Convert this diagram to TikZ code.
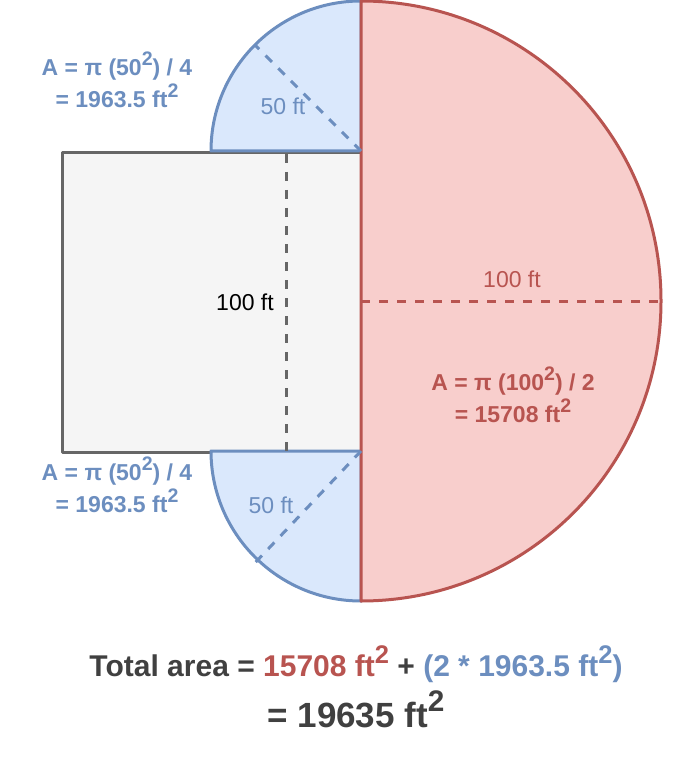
\documentclass[tikz,border=0pt]{standalone}
\usepackage{fontspec}
\setmainfont{Liberation Sans}
\definecolor{redS}{HTML}{B85450}
\definecolor{redF}{HTML}{F8CECC}
\definecolor{bluS}{HTML}{6C8EBF}
\definecolor{bluF}{HTML}{DAE8FC}
\definecolor{grS}{HTML}{666666}
\definecolor{grF}{HTML}{F5F5F5}
\definecolor{txt}{HTML}{404040}
\newcommand\sqr{\raisebox{0.45em}{\scalebox{0.85}{2}}}
\begin{document}
\begin{tikzpicture}[x=1pt,y=-1pt,
  lbl/.style={font=\fontsize{23}{27}\selectfont, inner sep=0pt},
  area/.style={font=\fontsize{23}{32}\selectfont\bfseries, align=center, inner sep=0pt},
  shp/.style={line width=3pt, line join=round},
  dim/.style={line width=3pt, dash pattern=on 9pt off 9pt}]
\useasboundingbox (0,0) rectangle (678,759);
% rectangle
\node[shp, draw=grS, fill=grF, minimum width=300pt, minimum height=300pt, inner sep=0pt, anchor=north west] (rect) at (61,151) {};
% quarter circles
\draw[shp, draw=bluS, fill=bluF] (361,151) -- (211,151) arc (180:270:150) -- cycle;
\draw[shp, draw=bluS, fill=bluF] (361,451) -- (211,451) arc (180:90:150) -- cycle;
% semicircle
\draw[shp, draw=redS, fill=redF] (361,1) arc (-90:90:300) -- cycle;
% dimension coordinates
\coordinate (gT) at (286,154);
\coordinate (gB) at (286,451);
\coordinate (rC) at (361,301);
\coordinate (rE) at (661,301);
\coordinate (bTc) at (361,151);
\coordinate (bTe) at (255,45);
\coordinate (bBc) at (361,451);
\coordinate (bBe) at (253,565);
\draw[dim, grS] (gT) -- (gB);
\draw[dim, redS] (rC) -- (rE);
\draw[dim, bluS] (bTc) -- (bTe);
\draw[dim, bluS] (bBc) -- (bBe);
% labels
\node[lbl, text=bluS] (l50t) at (283,106) {50 ft};
\node[lbl, text=bluS] (l50b) at (271,505) {50 ft};
\node[lbl, text=black] (l100g) at (245,302) {100 ft};
\node[lbl, text=redS] (l100r) at (512,279) {100 ft};
\node[area, text=redS] (ared) at (513,395) {A = π (100\sqr) / 2\\= 15708 ft\sqr};
\node[area, text=bluS] (atop) at (117,80) {A = π (50\sqr) / 4\\= 1963.5 ft\sqr};
\node[area, text=bluS] (abot) at (117,485) {A = π (50\sqr) / 4\\= 1963.5 ft\sqr};
\node[font=\fontsize{30}{36}\selectfont\bfseries, text=txt, inner sep=0pt] (total) at (356,664)
  {Total area = \textcolor{redS}{15708 ft\sqr} + \textcolor{bluS}{(2 * 1963.5 ft\sqr)}};
\node[font=\fontsize{35}{40}\selectfont\bfseries, text=txt, inner sep=0pt] (sum) at (356,709)
  {= 19635 ft\sqr};
\end{tikzpicture}
\end{document}
